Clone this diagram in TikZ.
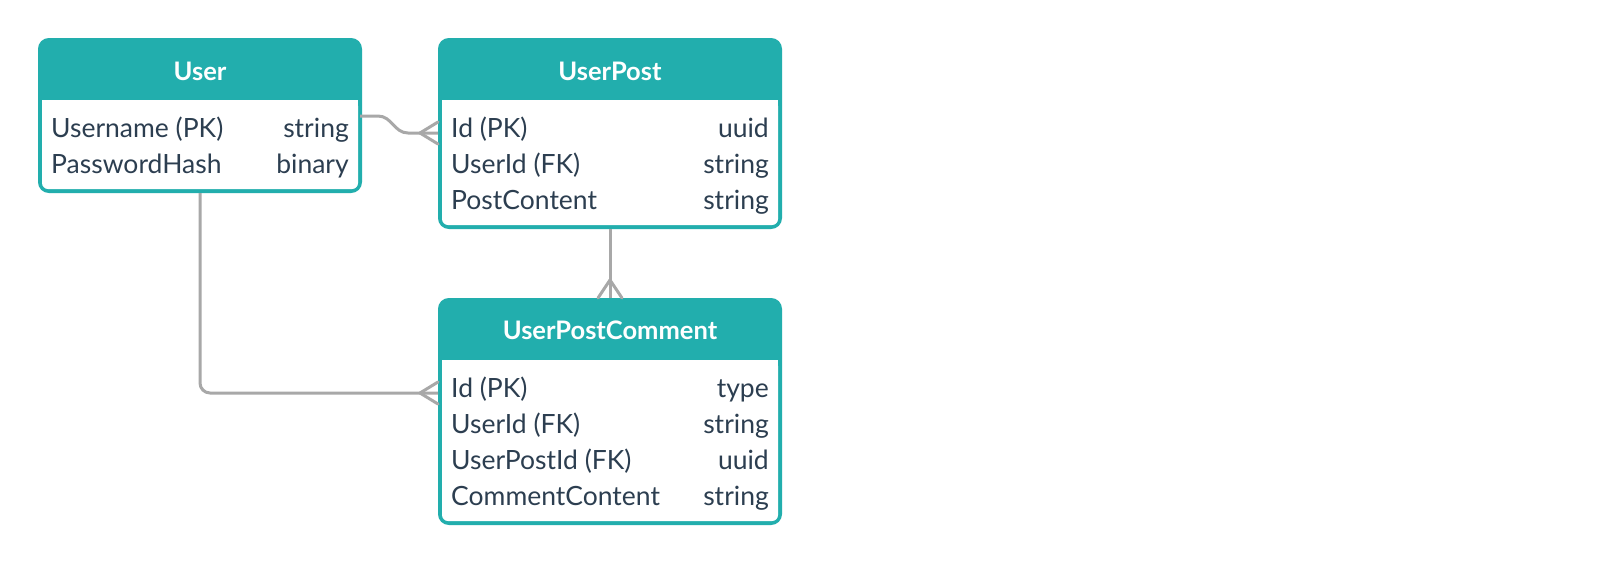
\documentclass[tikz,border=0pt]{standalone}
\usepackage{fontspec}
\setmainfont{Lato}
\usetikzlibrary{calc}
\definecolor{hdr}{HTML}{22AEAD}
\definecolor{txt}{HTML}{2C3E50}
\definecolor{conn}{HTML}{A8A8A8}
\tikzset{
  tbl/.style={draw=hdr, fill=hdr, line width=4pt, rounded corners=9pt, inner sep=0pt, outer sep=0pt, anchor=north west},
  hdrtext/.style={text=white, font=\fontsize{25.5}{30}\selectfont\bfseries, anchor=base, inner sep=0pt},
  lcell/.style={text=txt, font=\fontsize{26.5}{30}\selectfont, anchor=base west, inner sep=0pt},
  rcell/.style={text=txt, font=\fontsize{26.5}{30}\selectfont, anchor=base east, inner sep=0pt},
  connline/.style={draw=conn, line width=3pt},
  foot/.style={draw=conn, line width=3pt, line cap=round},
}
\newcommand{\tablebody}[1]{%
  \fill[white, rounded corners=6pt] ($(#1.north west)+(2,60)$) rectangle ($(#1.south east)+(-2,-2)$);
  \fill[white] ($(#1.north west)+(2,60)$) rectangle ($(#1.north east)+(-2,75)$);
}
\begin{document}
\begin{tikzpicture}[x=1pt,y=-1pt]
\useasboundingbox[fill=white] (0,0) rectangle (1600,565);
% User
\node[tbl, minimum width=320pt, minimum height=151pt] (user) at (40,40) {};
\tablebody{user}
\node[hdrtext] (userh) at (200,80) {User};
\node[lcell] (u1l) at (51,137) {Username (PK)};
\node[rcell] (u1r) at (349,137) {string};
\node[lcell] (u2l) at (51,173) {PasswordHash};
\node[rcell] (u2r) at (349,173) {binary};
% UserPost
\node[tbl, minimum width=340pt, minimum height=187pt] (post) at (440,40) {};
\tablebody{post}
\node[hdrtext] (posth) at (610,80) {UserPost};
\node[lcell] (p1l) at (451,137) {Id (PK)};
\node[rcell] (p1r) at (769,137) {uuid};
\node[lcell] (p2l) at (451,173) {UserId (FK)};
\node[rcell] (p2r) at (769,173) {string};
\node[lcell] (p3l) at (451,209) {PostContent};
\node[rcell] (p3r) at (769,209) {string};
% UserPostComment
\node[tbl, minimum width=340pt, minimum height=223pt] (cmt) at (440,300) {};
\tablebody{cmt}
\node[hdrtext] (cmth) at (610,339) {UserPostComment};
\node[lcell] (c1l) at (451,397) {Id (PK)};
\node[rcell] (c1r) at (769,397) {type};
\node[lcell] (c2l) at (451,433) {UserId (FK)};
\node[rcell] (c2r) at (769,433) {string};
\node[lcell] (c3l) at (451,469) {UserPostId (FK)};
\node[rcell] (c3r) at (769,469) {uuid};
\node[lcell] (c4l) at (451,505) {CommentContent};
\node[rcell] (c4r) at (769,505) {string};
% connectors
\coordinate (a1) at ($(user.north east)+(0,76)$);
\coordinate (b1) at ($(post.north west)+(-2,93)$);
\draw[connline] (a1) -- ++(18,0) .. controls +(14,0) and +(-14,0) .. ($(b1)+(-30,0)$) -- (b1);
\draw[foot] ($(b1)+(-18,0)$) -- ($(b1)+(0,-11)$);
\draw[foot] ($(b1)+(-18,0)$) -- ($(b1)+(0,11)$);

\coordinate (b2) at ($(cmt.north)+(0,-2)$);
\draw[connline] ($(post.south)+(0,2)$) -- (b2);
\draw[foot] ($(b2)+(0,-18)$) -- ($(b2)+(-12,0)$);
\draw[foot] ($(b2)+(0,-18)$) -- ($(b2)+(12,0)$);

\coordinate (b3) at ($(cmt.north west)+(-2,93)$);
\draw[connline, rounded corners=10pt] ($(user.south)+(0,2)$) |- (b3);
\draw[foot] ($(b3)+(-18,0)$) -- ($(b3)+(0,-11)$);
\draw[foot] ($(b3)+(-18,0)$) -- ($(b3)+(0,11)$);
\end{tikzpicture}
\end{document}
